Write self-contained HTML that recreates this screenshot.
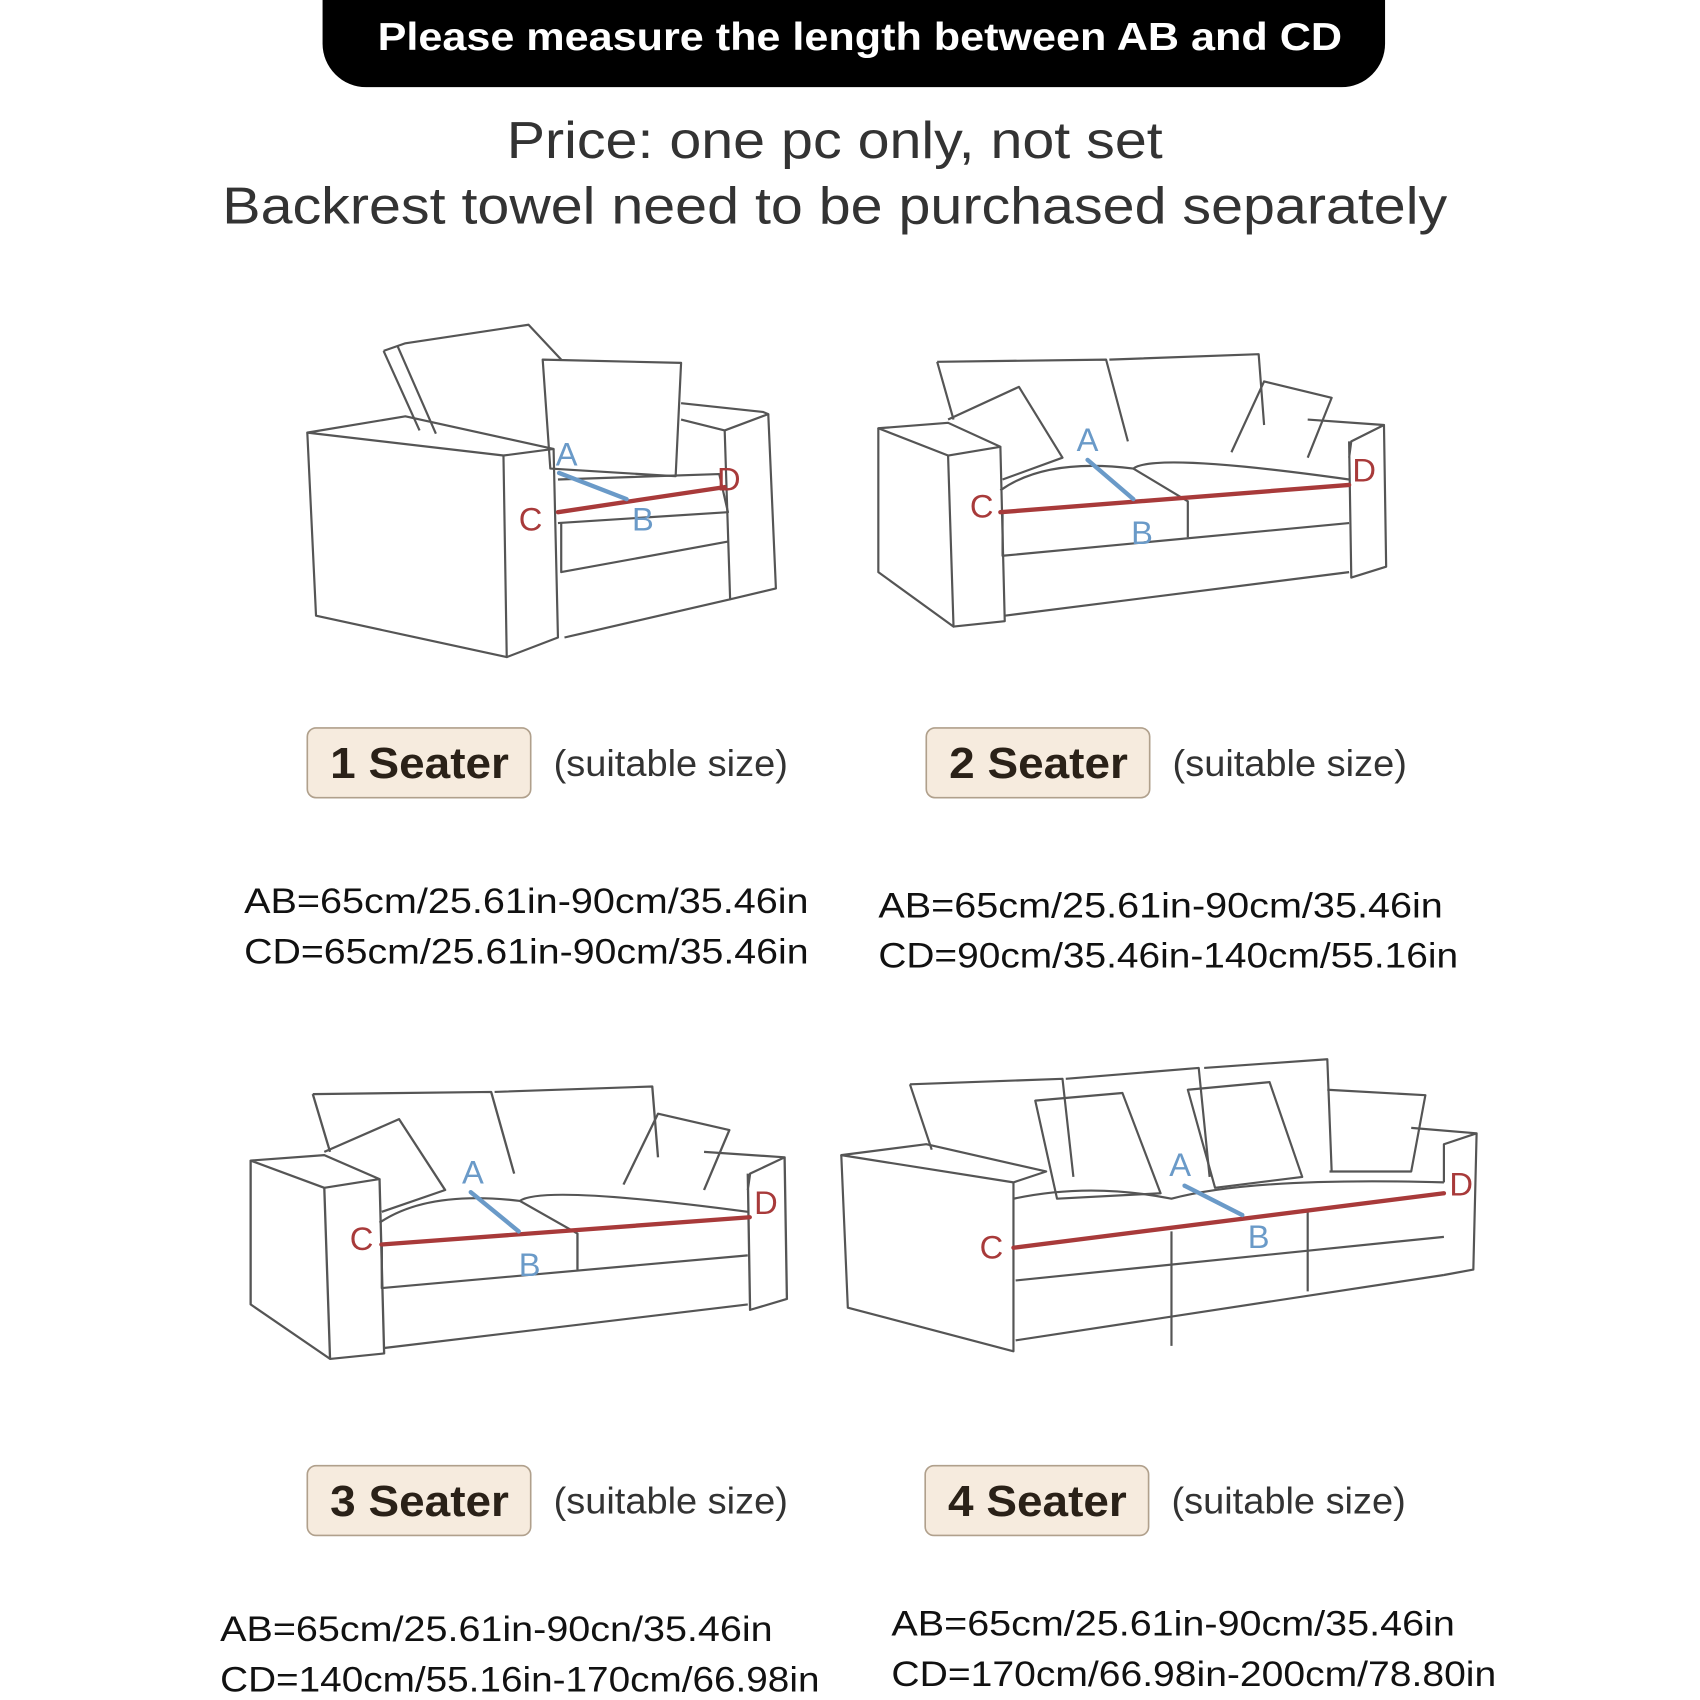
<!DOCTYPE html>
<html><head><meta charset="utf-8"><style>
html,body{margin:0;padding:0;background:#fff;}
svg{display:block;}
</style></head><body>
<svg width="1700" height="1700" viewBox="0 0 1560 1560" xmlns="http://www.w3.org/2000/svg" font-family="Liberation Sans, DejaVu Sans, sans-serif">
<rect width="1560" height="1560" fill="#fff"/>
<rect x="296" y="-40" width="975" height="120" rx="40" fill="#000"/>
<text x="789" y="46" text-anchor="middle" fill="#fff" font-size="36" font-weight="bold" textLength="885" lengthAdjust="spacingAndGlyphs">Please measure the length between AB and CD</text>
<text x="766" y="145" text-anchor="middle" fill="#333" font-size="48" textLength="602" lengthAdjust="spacingAndGlyphs">Price: one pc only, not set</text>
<text x="766" y="205" text-anchor="middle" fill="#333" font-size="48" textLength="1124" lengthAdjust="spacingAndGlyphs">Backrest towel need to be purchased separately</text>

<g fill="none" stroke="#555" stroke-width="2" stroke-linejoin="round">
<!-- 1 seater -->
<path d="M352,322 L372,315 L485,298 L515,330"/>
<path d="M352,322 L385,395 M365,318 L400,398"/>
<path d="M498,330 L625,333 L620,437 L505,430 Z"/>
<path d="M282,397 L372,382 L508,412 L462,418 Z"/>
<path d="M282,397 L290,565 L465,603 L462,418"/>
<path d="M508,412 L512,585 L465,603"/>
<path d="M625,370 L700,378 L705,380 L665,395 L625,385"/>
<path d="M665,395 L670,550 L712,540 L705,380"/>
<path d="M512,440 L660,435 L668,470 L512,480"/>
<path d="M515,480 L515,525 L668,497"/>
<path d="M518,585 L670,550"/>
<!-- 2 seater -->
<g id="s2">
<path d="M860,332 L1015,330 L1035,405 M1018,330 L1155,325 L1160,390 M860,332 L875,385"/>
<path d="M870,385 L935,355 L975,420 L920,440"/>
<path d="M1130,415 L1160,350 L1222,365 L1200,420"/>
<path d="M806,393 L870,388 L918,410 L870,418 Z"/>
<path d="M806,393 L806,525 L875,575 L870,418"/>
<path d="M918,410 L922,570 L875,575"/>
<path d="M1200,385 L1270,390 L1240,405 L1238,420 M1270,390 L1272,520 L1240,530 L1238,405"/>
<path d="M918,450 Q960,420 1040,430 Q1060,415 1238,440"/>
<path d="M1040,430 L1090,460 L1090,493"/>
<path d="M920,470 L920,510 L1238,480"/>
<path d="M922,565 L1238,525"/>
</g>
<g transform="translate(230,672) scale(1.056,1) translate(-806,0)">
<path d="M860,332 L1015,330 L1035,405 M1018,330 L1155,325 L1160,390 M860,332 L875,385"/>
<path d="M870,385 L935,355 L975,420 L920,440"/>
<path d="M1130,415 L1160,350 L1222,365 L1200,420"/>
<path d="M806,393 L870,388 L918,410 L870,418 Z"/>
<path d="M806,393 L806,525 L875,575 L870,418"/>
<path d="M918,410 L922,570 L875,575"/>
<path d="M1200,385 L1270,390 L1240,405 L1238,420 M1270,390 L1272,520 L1240,530 L1238,405"/>
<path d="M918,450 Q960,420 1040,430 Q1060,415 1238,440"/>
<path d="M1040,430 L1090,460 L1090,493"/>
<path d="M920,470 L920,510 L1238,480"/>
<path d="M922,565 L1238,525"/>
</g>
<!-- 4 seater -->
<path d="M835,995 L975,990 L985,1080 M978,990 L1100,980 L1110,1080 M1105,980 L1218,972 L1222,1075 M835,995 L855,1055"/>
<path d="M950,1010 L1030,1003 L1065,1095 L970,1100 Z"/>
<path d="M1090,1000 L1165,993 L1195,1080 L1115,1090 Z"/>
<path d="M1218,1000 L1308,1005 L1295,1075 L1220,1075"/>
<path d="M772,1060 L850,1050 L960,1075 L930,1085 Z"/>
<path d="M772,1060 L778,1200 L930,1240 L930,1085"/>
<path d="M1295,1035 L1355,1040 L1325,1050 L1325,1085 M1355,1040 L1352,1165 L1325,1170"/>
<path d="M930,1100 Q1000,1085 1075,1100 Q1150,1080 1325,1085"/>
<path d="M1075,1130 L1075,1235 M1200,1110 L1200,1185"/>
<path d="M932,1175 L1325,1135"/>
<path d="M932,1230 L1325,1170"/>
</g>
<g stroke-width="4" stroke-linecap="round">
<line x1="512" y1="470" x2="665" y2="447" stroke="#a83a3a"/>
<line x1="513" y1="434" x2="575" y2="458" stroke="#6a9ac8"/>
<line x1="918" y1="470" x2="1238" y2="445" stroke="#a83a3a"/>
<line x1="998" y1="422" x2="1040" y2="458" stroke="#6a9ac8"/>
<line x1="350" y1="1142" x2="688" y2="1117" stroke="#a83a3a"/>
<line x1="432" y1="1094" x2="476" y2="1130" stroke="#6a9ac8"/>
<line x1="930" y1="1145" x2="1325" y2="1095" stroke="#a83a3a"/>
<line x1="1087" y1="1088" x2="1140" y2="1115" stroke="#6a9ac8"/>
</g>
<g font-size="30">
<text x="510" y="427" fill="#6a9ac8">A</text><text x="580" y="487" fill="#6a9ac8">B</text>
<text x="476" y="487" fill="#a83a3a">C</text><text x="658" y="450" fill="#a83a3a">D</text>
<text x="988" y="414" fill="#6a9ac8">A</text><text x="1038" y="499" fill="#6a9ac8">B</text>
<text x="890" y="475" fill="#a83a3a">C</text><text x="1241" y="442" fill="#a83a3a">D</text>
<text x="424" y="1086" fill="#6a9ac8">A</text><text x="476" y="1171" fill="#6a9ac8">B</text>
<text x="321" y="1147" fill="#a83a3a">C</text><text x="692" y="1114" fill="#a83a3a">D</text>
<text x="1073" y="1079" fill="#6a9ac8">A</text><text x="1145" y="1145" fill="#6a9ac8">B</text>
<text x="899" y="1155" fill="#a83a3a">C</text><text x="1330" y="1097" fill="#a83a3a">D</text>
</g>

<g stroke="#b0a08c" stroke-width="1.5" fill="#f6ebde">
<rect x="282" y="668" width="205" height="64" rx="8"/>
<rect x="850" y="668" width="205" height="64" rx="8"/>
<rect x="282" y="1345" width="205" height="64" rx="8"/>
<rect x="849" y="1345" width="205" height="64" rx="8"/>
</g>
<g font-size="40" font-weight="bold" fill="#2a2118" text-anchor="middle">
<text x="385" y="714" textLength="164" lengthAdjust="spacingAndGlyphs">1 Seater</text>
<text x="953" y="714" textLength="164" lengthAdjust="spacingAndGlyphs">2 Seater</text>
<text x="385" y="1391" textLength="164" lengthAdjust="spacingAndGlyphs">3 Seater</text>
<text x="952" y="1391" textLength="164" lengthAdjust="spacingAndGlyphs">4 Seater</text>
</g>
<g font-size="34" fill="#333">
<text x="508" y="712" textLength="215" lengthAdjust="spacingAndGlyphs">(suitable size)</text>
<text x="1076" y="712" textLength="215" lengthAdjust="spacingAndGlyphs">(suitable size)</text>
<text x="508" y="1389" textLength="215" lengthAdjust="spacingAndGlyphs">(suitable size)</text>
<text x="1075" y="1389" textLength="215" lengthAdjust="spacingAndGlyphs">(suitable size)</text>
</g>
<g font-size="32" fill="#111">
<text x="224" y="838" textLength="518" lengthAdjust="spacingAndGlyphs">AB=65cm/25.61in-90cm/35.46in</text>
<text x="224" y="884" textLength="518" lengthAdjust="spacingAndGlyphs">CD=65cm/25.61in-90cm/35.46in</text>
<text x="806" y="842" textLength="518" lengthAdjust="spacingAndGlyphs">AB=65cm/25.61in-90cm/35.46in</text>
<text x="806" y="888" textLength="532" lengthAdjust="spacingAndGlyphs">CD=90cm/35.46in-140cm/55.16in</text>
<text x="202" y="1506" textLength="507" lengthAdjust="spacingAndGlyphs">AB=65cm/25.61in-90cn/35.46in</text>
<text x="202" y="1552" textLength="550" lengthAdjust="spacingAndGlyphs">CD=140cm/55.16in-170cm/66.98in</text>
<text x="818" y="1501" textLength="517" lengthAdjust="spacingAndGlyphs">AB=65cm/25.61in-90cm/35.46in</text>
<text x="818" y="1547" textLength="555" lengthAdjust="spacingAndGlyphs">CD=170cm/66.98in-200cm/78.80in</text>
</g>
</svg>
</body></html>
